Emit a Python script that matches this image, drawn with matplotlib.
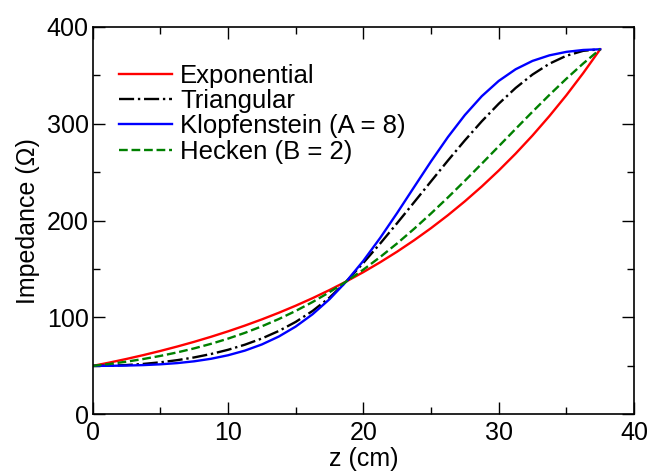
import matplotlib.pyplot as plt

plt.rcParams["font.family"] = ["Liberation Sans", "DejaVu Sans"]

# position along the taper (cm), 1.25 cm steps
z = [1.25 * k for k in range(31)]

# impedance profiles (ohm)
exponential = [50.0, 53.48, 57.21, 61.19, 65.46, 70.02, 74.89, 80.11, 85.69, 91.66,
               98.04, 104.87, 112.18, 119.99, 128.35, 137.30, 146.86, 157.10, 168.03,
               179.75, 192.27, 205.65, 219.98, 235.30, 251.70, 269.21, 287.96, 308.06,
               329.49, 352.47, 377.0]
triangular = [50.0, 50.22, 50.91, 52.06, 53.72, 55.94, 58.77, 62.30, 66.64, 71.93,
              78.33, 86.08, 95.44, 106.78, 120.53, 137.30, 156.40, 176.50, 197.50,
              219.00, 240.60, 262.10, 282.90, 302.60, 320.70, 337.00, 350.90, 362.10,
              370.30, 375.40, 377.0]
klopfenstein = [50.0, 50.10, 50.36, 50.84, 51.65, 52.90, 54.75, 57.38, 60.99, 65.82,
                72.16, 80.31, 90.62, 103.38, 118.89, 137.30, 158.55, 182.32, 208.01,
                234.70, 261.22, 286.37, 309.07, 328.52, 344.28, 356.34, 364.98, 370.73,
                374.31, 376.28, 377.0]
hecken = [50.0, 52.02, 54.39, 57.14, 60.32, 63.96, 68.11, 72.83, 78.16, 84.16,
          90.89, 98.40, 106.76, 115.99, 126.16, 137.30, 149.41, 162.51, 176.57,
          191.56, 207.40, 223.97, 241.18, 258.83, 276.74, 294.72, 312.51, 329.88,
          346.57, 362.36, 377.0]

fig = plt.figure(figsize=(6.51, 4.72), dpi=100)
ax = fig.add_axes([0.1424, 0.1222, 0.8315, 0.8206])

lw = 1.7
ax.plot(z, exponential, color="#ff0000", lw=lw, label="Exponential")
ax.plot(z, triangular, color="black", lw=lw, ls="-.", label="Triangular")
ax.plot(z, klopfenstein, color="#0000ff", lw=lw, label="Klopfenstein (A = 8)")
ax.plot(z, hecken, color="#008000", lw=lw, ls="--", label="Hecken (B = 2)")

ax.set_xlim(0, 40)
ax.set_ylim(0, 400)
ax.set_xticks([0, 10, 20, 30, 40])
ax.set_xticks([5, 15, 25, 35], minor=True)
ax.set_yticks([0, 100, 200, 300, 400])
ax.set_yticks([50, 150, 250, 350], minor=True)
ax.tick_params(which="both", direction="in", top=True, right=True,
               labelsize=18, width=1.0)
ax.tick_params(axis="x", pad=5)
ax.tick_params(axis="y", pad=3)
ax.tick_params(which="major", length=8.5)
ax.tick_params(which="minor", length=4.7)
for s in ax.spines.values():
    s.set_linewidth(1.2)

ax.set_xlabel("z (cm)", fontsize=18, labelpad=1.5)
ax.set_ylabel("Impedance (Ω)", fontsize=18, labelpad=5)

ax.legend(loc="upper left", bbox_to_anchor=(0.0486, 0.905), frameon=False,
          fontsize=18.5, handlelength=2.06, handletextpad=0.31, labelspacing=0.05,
          borderpad=0, borderaxespad=0)

fig.savefig("out.png", dpi=100)
